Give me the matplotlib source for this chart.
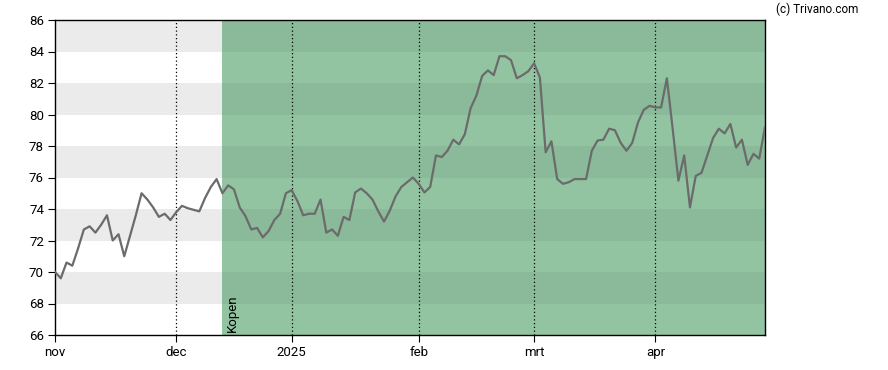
import matplotlib.pyplot as plt
import numpy as np

plt.rcParams['font.family'] = ['Roboto', 'DejaVu Sans']

# koers per handelsdag (index 0 = 1 nov 2024)
prices = [
    70.0, 69.6, 70.6, 70.4, 71.5, 72.7, 72.9, 72.5, 73.0, 73.6,
    72.0, 72.4, 71.0, 72.3, 73.6, 75.0, 74.6, 74.1, 73.5, 73.7,
    73.3, 73.8, 74.2, 74.05, 73.95, 73.85, 74.7, 75.4, 75.9, 75.0,
    75.5, 75.25, 74.1, 73.55, 72.7, 72.8, 72.2, 72.6, 73.3, 73.7,
    75.0, 75.2, 74.5, 73.6, 73.7, 73.7, 74.6, 72.5, 72.7, 72.3,
    73.5, 73.3, 75.05, 75.3, 75.0, 74.6, 73.85, 73.2, 73.9, 74.8,
    75.4, 75.7, 76.0, 75.6, 75.05, 75.4, 77.4, 77.3, 77.7, 78.4,
    78.1, 78.75, 80.4, 81.2, 82.45, 82.8, 82.5, 83.7, 83.7, 83.45,
    82.3, 82.5, 82.75, 83.25, 82.35, 77.6, 78.3, 75.9, 75.6, 75.7,
    75.9, 75.9, 75.9, 77.7, 78.35, 78.4, 79.1, 79.0, 78.2, 77.7,
    78.2, 79.5, 80.3, 80.55, 80.45, 80.45, 82.3, 79.1, 75.8, 77.4,
    74.1, 76.1, 76.3, 77.4, 78.5, 79.1, 78.8, 79.4, 77.9, 78.4,
    76.8, 77.5, 77.2, 79.2,
]
month_idx = [0, 21, 41, 63, 83, 104]
month_labels = ['nov', 'dec', '2025', 'feb', 'mrt', 'apr']
buy_idx = 29
buy_label = 'Kopen'

x = np.arange(len(prices))
x_end = len(prices) - 1

fig = plt.figure(figsize=(8.88, 3.7), dpi=100)
ax = fig.add_axes([55/888, 35/370, 710/888, 315/370])

ymin, ymax = 66, 86
# horizontale banden
for lo in range(ymin, ymax, 2):
    shaded = (lo // 2) % 2 == 0
    ax.axhspan(lo, lo + 2, xmin=0, xmax=buy_idx / x_end,
               color='#ebebeb' if shaded else 'white', lw=0, zorder=0)
    ax.axhspan(lo, lo + 2, xmin=buy_idx / x_end, xmax=1,
               color='#8aba99' if shaded else '#93c4a2', lw=0, zorder=0)

for m in month_idx[1:]:
    ax.axvline(m, color='black', ls=(0, (1, 2)), lw=0.9, zorder=1)

ax.plot(x, prices, color='#6b6b6b', lw=1.6, zorder=3)

ax.text(buy_idx + 0.6, ymin + 0.2, buy_label, rotation=90, fontsize=9.5,
        ha='left', va='bottom', zorder=4)

ax.set_xlim(0, x_end)
ax.set_ylim(ymin, ymax)
ax.set_yticks(range(ymin, ymax + 1, 2))
ax.set_xticks(month_idx)
ax.set_xticklabels(month_labels)
ax.tick_params(labelsize=9.5, length=5, width=0.8, colors='black', pad=3)
for s in ax.spines.values():
    s.set_linewidth(1.0)

fig.text(858/888, 1 - 9/370, '(c) Trivano.com', ha='right', va='center', fontsize=8.5)

fig.savefig('out.png', dpi=100)
